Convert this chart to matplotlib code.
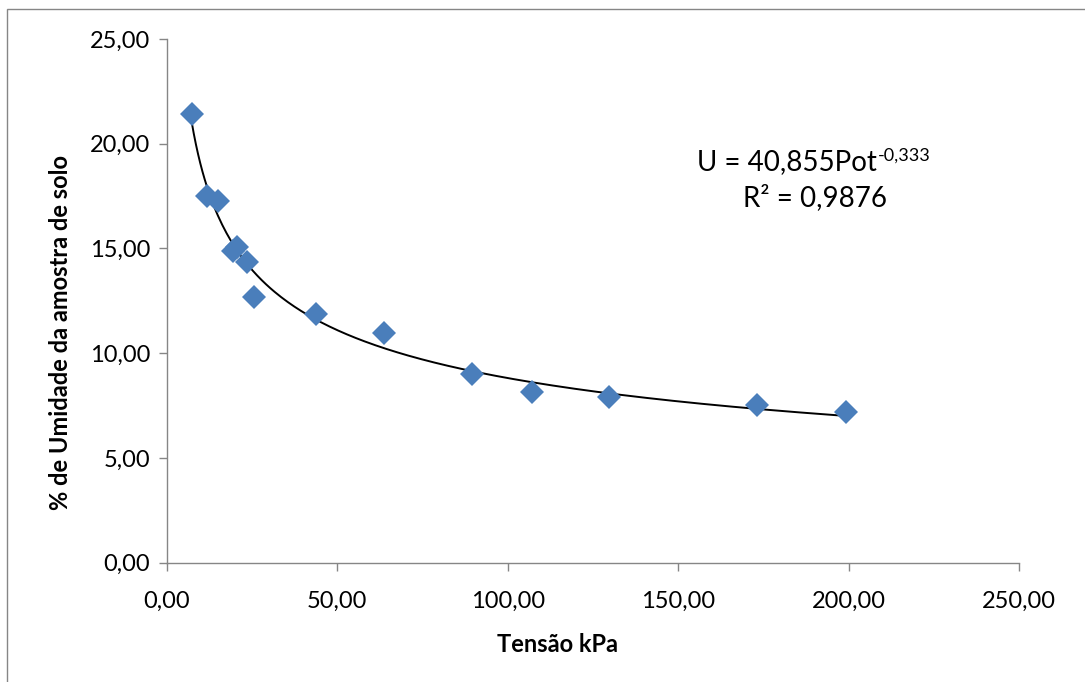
import matplotlib
matplotlib.use("Agg")
import matplotlib.pyplot as plt
from matplotlib.ticker import FuncFormatter, MultipleLocator
from matplotlib.patches import Rectangle
import numpy as np

# leituras da figura original
tensao = [7.3, 11.7, 15.0, 19.6, 20.6, 23.6, 25.7, 43.8, 63.7, 89.6, 107.0, 129.7, 173.0, 199.2]
umidade = [21.42, 17.50, 17.28, 14.88, 15.05, 14.34, 12.70, 11.87, 10.95, 8.99, 8.16, 7.89, 7.52, 7.19]

coef_a = 40.855
coef_b = -0.333

plt.rcParams['font.family'] = ['Lato', 'DejaVu Sans']

cinza = '#868686'


def virgula(v, pos):
	return ('%.2f' % v).replace('.', ',')


def main():
	fig = plt.figure(figsize=(10.85, 6.82), dpi=100)
	fig.patches.append(Rectangle((7/1085, -0.1), 1.2, 0.1 + (682-9)/682,
		transform=fig.transFigure, fill=False, edgecolor=cinza, lw=1.0))

	ax = fig.add_axes([0.1536, 0.1749, 0.7858, 0.7679])

	xs = np.linspace(min(tensao), max(tensao), 300)
	ax.plot(xs, coef_a * xs**coef_b, color='black', lw=1.4, zorder=2)
	ax.plot(tensao, umidade, 'D', color='#4a7ebb', markersize=12.5, markeredgewidth=0, zorder=3)

	ax.set_xlim(0, 250)
	ax.set_ylim(0, 25)
	ax.xaxis.set_major_locator(MultipleLocator(50))
	ax.yaxis.set_major_locator(MultipleLocator(5))
	ax.xaxis.set_major_formatter(FuncFormatter(virgula))
	ax.yaxis.set_major_formatter(FuncFormatter(virgula))

	for s in ['top', 'right']:
		ax.spines[s].set_visible(False)
	for s in ['left', 'bottom']:
		ax.spines[s].set_color(cinza)
		ax.spines[s].set_linewidth(1.0)
	ax.tick_params(axis='both', direction='out', length=6, width=1.0, color=cinza,
		labelsize=17, labelcolor='black')
	ax.tick_params(axis='x', pad=14)
	ax.tick_params(axis='y', pad=6)

	ax.set_xlabel('Tensão kPa', fontsize=17, fontweight='bold', labelpad=10)
	ax.xaxis.set_label_coords(0.458, -0.135)
	ax.set_ylabel('% de Umidade da amostra de solo', fontsize=17, fontweight='bold')
	ax.yaxis.set_label_coords(-0.111, 0.44)

	# equação da linha de tendência
	ax.text(208.3, 18.74, 'U = 40,855Pot', fontsize=20, ha='right', va='baseline')
	ax.text(208.6, 19.21, '-0,333', fontsize=13, ha='left', va='baseline')
	ax.text(190.1, 17.05, 'R² = 0,9876', fontsize=20, ha='center', va='baseline')

	fig.savefig('out.png', dpi=100)


if __name__ == '__main__':
	main()
